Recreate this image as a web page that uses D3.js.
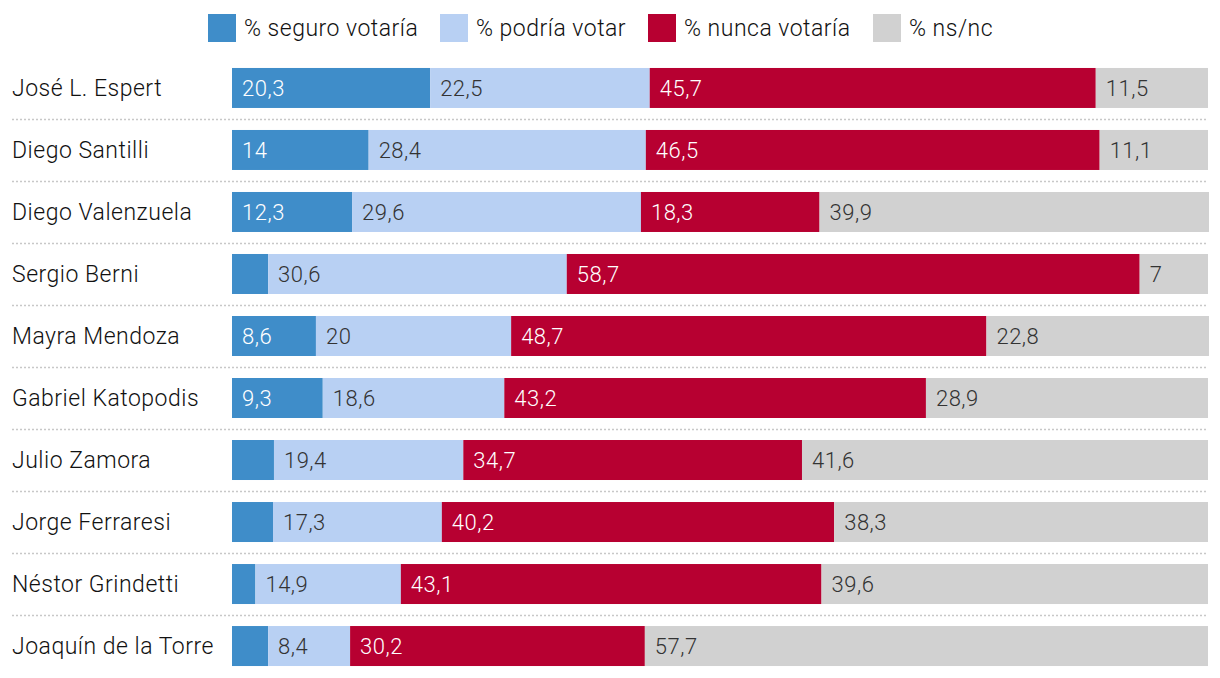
<!DOCTYPE html>
<html><head><meta charset="utf-8">
<script src="https://cdn.jsdelivr.net/npm/d3@7"></script>
<style>body{margin:0;background:#fff;}svg{display:block;font-family:Roboto,"Noto Sans",sans-serif;}</style>
</head><body><svg id="c" width="1220" height="678"></svg>
<script>
const candidates = ["José L. Espert","Diego Santilli","Diego Valenzuela","Sergio Berni","Mayra Mendoza","Gabriel Katopodis","Julio Zamora","Jorge Ferraresi","Néstor Grindetti","Joaquín de la Torre"];
const seguro = [20.3,14,12.3,3.7,8.6,9.3,4.3,4.2,2.4,3.7];
const podria = [22.5,28.4,29.6,30.6,20,18.6,19.4,17.3,14.9,8.4];
const nunca = [45.7,46.5,18.3,58.7,48.7,43.2,34.7,40.2,43.1,30.2];
const nsnc = [11.5,11.1,39.9,7,22.8,28.9,41.6,38.3,39.6,57.7];
const seriesNames = ["% seguro votaría","% podría votar","% nunca votaría","% ns/nc"];
const seriesKeys = ["seguro","podria","nunca","nsnc"];
const colors = ["#3f8dc9","#b8d0f3","#b70031","#d1d1d1"];
const textColors = ["#fff","#333","#fff","#333"];

const data = candidates.map((c,i)=>({name:c,seguro:seguro[i],podria:podria[i],nunca:nunca[i],nsnc:nsnc[i]}));
const svg = d3.select("#c");
const x = d3.scaleLinear().domain([0,100]).range([232,1208]);
const y = d3.scaleBand().domain(candidates).range([57,677]).paddingInner(0.355).paddingOuter(0.177);
const stack = d3.stack().keys(seriesKeys)(data);

// separators
svg.append("g").selectAll("line").data(candidates.slice(1)).join("line")
  .attr("x1",12).attr("x2",1208)
  .attr("y1",d=>Math.round(y(d)-y.step()*y.paddingInner()/2)+0.5)
  .attr("y2",d=>Math.round(y(d)-y.step()*y.paddingInner()/2)+0.5)
  .attr("stroke","#c8c8c8").attr("stroke-width",1.5).attr("stroke-dasharray","2,2");

const g = svg.append("g").selectAll("g").data(stack).join("g").attr("fill",(d,i)=>colors[i]);
g.selectAll("rect").data(d=>d).join("rect")
  .attr("x",d=>x(d[0])).attr("width",d=>x(d[1])-x(d[0]))
  .attr("y",d=>y(d.data.name)).attr("height",y.bandwidth());
stack.forEach((s,si)=>{
  svg.append("g").selectAll("text").data(s.filter(d=>d[1]-d[0]>=5)).join("text")
    .attr("x",d=>x(d[0])+10).attr("y",d=>y(d.data.name)+y.bandwidth()/2)
    .attr("dy","0.35em").attr("fill",textColors[si]).attr("font-size",22).attr("font-weight",300)
    .attr("letter-spacing",0.5)
    .text(d=>String(d.data[seriesKeys[si]]).replace(".",","));
});

// candidate labels
svg.append("g").selectAll("text").data(candidates).join("text")
  .attr("x",12).attr("y",d=>y(d)+y.bandwidth()/2).attr("dy","0.35em")
  .attr("font-size",23).attr("font-weight",300).attr("letter-spacing",0.5).attr("fill","#111").text(d=>d);

// legend
const legX = [208,440,648,873];
const leg = svg.append("g").selectAll("g").data(seriesNames).join("g")
  .attr("transform",(d,i)=>`translate(${legX[i]},14)`);
leg.append("rect").attr("width",28).attr("height",28).attr("fill",(d,i)=>colors[i]);
leg.append("text").attr("x",36).attr("y",14).attr("dy","0.35em").attr("font-size",23).attr("font-weight",300)
  .attr("letter-spacing",0.5).attr("fill","#111").text(d=>d);
</script></body></html>
